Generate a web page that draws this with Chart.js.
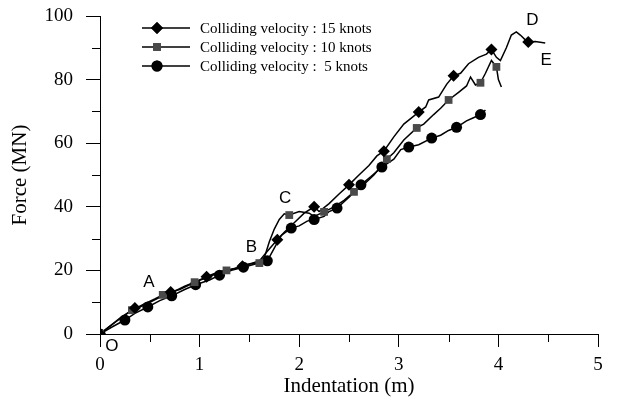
<!DOCTYPE html>
<html>
<head>
<meta charset="utf-8">
<script src="https://cdn.jsdelivr.net/npm/chart.js@4.4.1/dist/chart.umd.min.js"></script>
<style>
  html, body { margin: 0; padding: 0; background: #fff; }
  #wrap { width: 620px; height: 408px; position: relative; }
</style>
</head>
<body>
<div id="wrap"><canvas id="c" width="620" height="408"></canvas></div>
<script>
// ---- Data ----
const seriesLabels = ['Colliding velocity : 15 knots', 'Colliding velocity : 10 knots', 'Colliding velocity :  5 knots'];

// 15 knots curve
const v15X = [0,0.1,0.2,0.3,0.4,0.5,0.6,0.71,0.8,0.9,1.0,1.07,1.15,1.25,1.35,1.43,1.5,1.6,1.68,1.78,1.85,1.95,2.05,2.15,2.2,2.3,2.4,2.5,2.6,2.7,2.78,2.85,2.95,3.05,3.15,3.2,3.27,3.3,3.4,3.48,3.55,3.62,3.7,3.8,3.88,3.93,3.98,4.02,4.08,4.13,4.18,4.22,4.27,4.3,4.37,4.47];
const v15Y = [0,2.5,4.8,7,8.5,10,11.5,13.2,14,15.5,17,18,19,20,20.5,21.3,22,23,26,29.6,32,35,38,40,38.5,41,44,46.9,50,53,56,57.5,62,66,68.5,69.8,71.4,73.6,74.5,78.5,81.2,82,85,87,88,89.5,87,86,90,94,95,94,92.5,91.8,92,91.5];
const v15MX = [0,0.35,0.71,1.07,1.43,1.78,2.15,2.5,2.85,3.2,3.55,3.93,4.3];
const v15MY = [0,8.2,13.2,18,21.3,29.6,40,46.9,57.5,69.8,81.2,89.5,91.8];

// 10 knots curve
const v10X = [0,0.1,0.2,0.32,0.45,0.55,0.63,0.75,0.85,0.95,1.1,1.2,1.27,1.4,1.5,1.6,1.65,1.7,1.75,1.8,1.85,1.9,2.0,2.1,2.15,2.25,2.35,2.45,2.55,2.65,2.75,2.88,2.95,3.05,3.18,3.25,3.35,3.42,3.5,3.6,3.68,3.72,3.77,3.82,3.87,3.93,3.98,4.0,4.03];
const v10Y = [0,2.5,5,7.5,9.5,11,12.3,13.5,15,16.3,18,19.5,20,21,22,22.3,24,29,33,36,37.8,37.4,38.5,38,37,38.4,40,42,44.7,47,50,55,57,61,64.8,66,69,71,73.6,76,78,80.8,78.3,79,82,86,84,80,77.7];
const v10MX = [0,0.32,0.63,0.95,1.27,1.6,1.9,2.25,2.55,2.88,3.18,3.5,3.82,3.98];
const v10MY = [0,7.5,12.3,16.3,20,22.3,37.4,38.4,44.7,55,64.8,73.6,79,84];

// 5 knots curve
const v5X = [0,0.12,0.25,0.35,0.48,0.6,0.72,0.85,0.96,1.1,1.2,1.32,1.44,1.56,1.68,1.75,1.82,1.92,2.0,2.08,2.15,2.25,2.3,2.38,2.5,2.62,2.72,2.83,2.95,3.02,3.1,3.2,3.33,3.42,3.5,3.58,3.68,3.75,3.82,3.87];
const v5Y = [0,2.2,4.4,6.5,8.5,10.5,12,14,15.5,17,18.5,20,21,22,23,27,31,33.3,34,35.5,36,37,38.5,39.6,43,46.9,49.5,52.5,55,58,58.8,59.5,61.6,62.5,64,65,67,68,69,70.4];
const v5MX = [0,0.25,0.48,0.72,0.96,1.2,1.44,1.68,1.92,2.15,2.38,2.62,2.83,3.1,3.33,3.58,3.82];
const v5MY = [0,4.4,8.5,12,15.5,18.5,21,23,33.3,36,39.6,46.9,52.5,58.8,61.6,65,69];

// Point annotations (letters)
const noteText = ['O','A','B','C','D','E'];
const noteX = [0.12,0.49,1.52,1.86,4.34,4.48];
const noteY = [-4,16.4,27.4,42.8,98.7,86.2];

const xTickVals = [0,1,2,3,4,5];
const yTickVals = [0,20,40,60,80,100];

// ---- Build ----
const pts = (xs, ys) => xs.map((x, i) => ({ x: x, y: ys[i] }));
const markerStyles = ['rectRot', 'rect', 'circle'];
const markerColors = ['#000000', '#4a4a4a', '#000000'];
const markerRadius = [6, 5.5, 5.5];

const lineSets = [pts(v15X, v15Y), pts(v10X, v10Y), pts(v5X, v5Y)];
const markSets = [pts(v15MX, v15MY), pts(v10MX, v10MY), pts(v5MX, v5MY)];

const datasets = [];
for (let i = 0; i < 3; i++) {
  datasets.push({
    label: seriesLabels[i], data: lineSets[i], showLine: true,
    borderColor: '#000', borderWidth: 1.5, pointRadius: 0, tension: 0, order: 2
  });
}
for (let i = 0; i < 3; i++) {
  datasets.push({
    label: '_m' + i, data: markSets[i], showLine: false,
    pointStyle: markerStyles[i], pointRadius: markerRadius[i],
    backgroundColor: markerColors[i], borderColor: markerColors[i], borderWidth: 0, order: 1
  });
}

const serif = '"Liberation Serif", "Times New Roman", serif';

const extras = {
  id: 'extras',
  afterDraw(chart) {
    const ctx = chart.ctx;
    const xs = chart.scales.x, ys = chart.scales.y;
    const area = chart.chartArea;
    ctx.save();
    // minor ticks
    ctx.strokeStyle = '#000'; ctx.lineWidth = 1;
    ctx.beginPath();
    for (let i = 0; i < yTickVals.length - 1; i++) {
      const v = (yTickVals[i] + yTickVals[i + 1]) / 2;
      const py = Math.round(ys.getPixelForValue(v)) + 0.5;
      ctx.moveTo(area.left - 8, py); ctx.lineTo(area.left, py);
    }
    for (let i = 0; i < xTickVals.length - 1; i++) {
      const v = (xTickVals[i] + xTickVals[i + 1]) / 2;
      const px = Math.round(xs.getPixelForValue(v)) + 0.5;
      ctx.moveTo(px, area.bottom); ctx.lineTo(px, area.bottom + 8);
    }
    ctx.stroke();

    // letters
    ctx.fillStyle = '#000';
    ctx.font = '17px "Liberation Sans", Arial, sans-serif';
    ctx.textAlign = 'center'; ctx.textBaseline = 'middle';
    for (let i = 0; i < noteText.length; i++) {
      ctx.fillText(noteText[i], xs.getPixelForValue(noteX[i]), ys.getPixelForValue(noteY[i]));
    }

    // legend
    const lx = area.left + 42, ly = area.top + 12, dy = 19;
    for (let i = 0; i < 3; i++) {
      const y = ly + i * dy;
      ctx.strokeStyle = '#000'; ctx.lineWidth = 1.5;
      ctx.beginPath(); ctx.moveTo(lx, y); ctx.lineTo(lx + 48, y); ctx.stroke();
      ctx.fillStyle = markerColors[i];
      Chart.helpers.drawPoint(ctx, { pointStyle: markerStyles[i], radius: markerRadius[i], rotation: 0, borderWidth: 0 }, lx + 15, y);
      ctx.fill();
      ctx.fillStyle = '#000';
      ctx.font = '15px ' + serif;
      ctx.textAlign = 'left'; ctx.textBaseline = 'middle';
      ctx.fillText(seriesLabels[i], lx + 58, y + 1);
    }
    ctx.restore();
  }
};

new Chart(document.getElementById('c'), {
  type: 'scatter',
  data: { datasets: datasets },
  plugins: [extras],
  options: {
    responsive: false,
    animation: false,
    layout: { padding: { top: 16, right: 22, left: 8, bottom: 9 } },
    plugins: { legend: { display: false }, tooltip: { enabled: false } },
    scales: {
      x: {
        type: 'linear', min: 0, max: 5,
        afterFit(s) { s.height = 65; s.paddingLeft = 0; s.paddingRight = 0; },
        afterBuildTicks(s) { s.ticks = xTickVals.map(v => ({ value: v })); },
        grid: { drawOnChartArea: false, drawTicks: true, tickLength: 13, color: '#000', lineWidth: 1 },
        border: { display: true, color: '#000', width: 1 },
        ticks: { color: '#000', font: { family: serif, size: 19 }, padding: 7, maxRotation: 0 },
        title: { display: true, text: 'Indentation (m)', color: '#000', font: { family: serif, size: 21 }, padding: { top: 0, bottom: 0 } }
      },
      y: {
        type: 'linear', min: 0, max: 100,
        afterFit(s) { s.width = 92; s.paddingTop = 0; s.paddingBottom = 0; },
        afterBuildTicks(s) { s.ticks = yTickVals.map(v => ({ value: v })); },
        grid: { drawOnChartArea: false, drawTicks: true, tickLength: 14, color: '#000', lineWidth: 1 },
        border: { display: true, color: '#000', width: 1 },
        ticks: { color: '#000', font: { family: serif, size: 19 }, padding: 13 },
        title: { display: true, text: 'Force (MN)', color: '#000', font: { family: serif, size: 21 }, padding: { top: 0, bottom: 0 } }
      }
    }
  }
});
</script>
</body>
</html>
